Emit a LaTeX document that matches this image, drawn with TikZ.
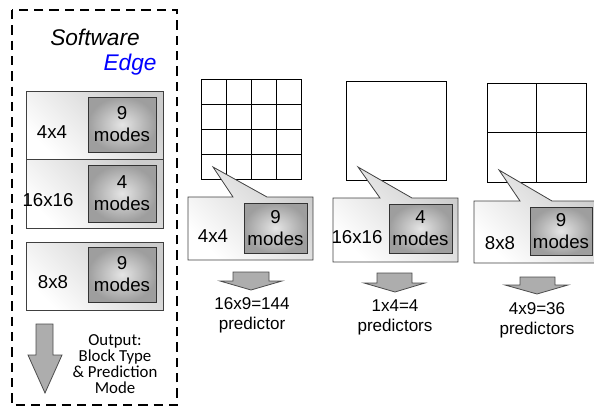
\documentclass[tikz,border=0pt]{standalone}
\usepackage{fontspec}
\setmainfont{Liberation Sans}
\newfontfamily\calib{Carlito}
\begin{document}
\begin{tikzpicture}[x=0.75pt,y=-0.75pt,
  outerbox/.style={draw=black!75, line width=0.6pt, top color=black!20, bottom color=white, shading angle=-45},
  innerbox/.style={draw=black!80, line width=0.6pt, inner color=black!10, outer color=black!38},
  gridline/.style={draw=black, line width=0.6pt},
  blockarrow/.style={draw=black!70, fill=black!32, line width=0.6pt},
  lbl/.style={font=\fontsize{14}{16.5}\selectfont, align=center, inner sep=0pt},
  res/.style={font=\fontsize{12.8}{15}\selectfont, align=center, inner sep=0pt}
]
\useasboundingbox (0,0) rectangle (594,407);
\clip (0,0) rectangle (594,407);

% dashed software box
\draw[line width=1.4pt, dash pattern=on 7pt off 4.5pt] (12,10) rectangle (177,405);
\node[font=\fontsize{17}{20}\selectfont\itshape, inner sep=0pt] (sw) at (95,37) {Software};
\node[font=\fontsize{17}{20}\selectfont\itshape, text=blue, inner sep=0pt] (edge) at (130,65) {Edge};

% left stack
\path[outerbox] (26,91) rectangle (163,159);
\path[innerbox] (88,97) rectangle (156,152);
\node[lbl] (l1) at (52,132) {4x4};
\node[lbl] (l1m) at (122,124.5) {9\\modes};

\path[outerbox] (26,159) rectangle (163,228);
\path[innerbox] (88,165) rectangle (156,222);
\node[lbl] (l2) at (48,200) {16x16};
\node[lbl] (l2m) at (122,193.5) {4\\modes};

\path[outerbox] (26,242) rectangle (163,310);
\path[innerbox] (88,247) rectangle (156,302);
\node[lbl] (l3) at (53,282) {8x8};
\node[lbl] (l3m) at (122,274.5) {9\\modes};

% output arrow and text
\path[blockarrow] (36,324) -- (53,324) -- (53,355) -- (62,355) -- (45,393) -- (28,355) -- (36,355) -- cycle;
\node[font=\calib\fontsize{12.6}{12}\selectfont, align=center, inner sep=0pt] (out) at (115,364) {Output:\\Block Type\\\& Prediction\\Mode};

% grid 1 (4x4)
\draw[gridline] (201,79) rectangle (301,179);
\foreach \i in {1,2,3} {
  \draw[gridline] (201+25*\i,79) -- (201+25*\i,179);
  \draw[gridline] (201,79+25*\i) -- (301,79+25*\i);
}
% grid 2 (1)
\draw[gridline] (346,81) rectangle (446,180);
% grid 3 (2x2)
\draw[gridline] (487,83) rectangle (586,182);
\draw[gridline] (536.5,83) -- (536.5,182);
\draw[gridline] (487,132.5) -- (586,132.5);

% callout 1
\path[outerbox] (188,197) -- (233,197) -- (213,167) -- (267,197) -- (313,197) -- (313,260) -- (188,260) -- cycle;
\path[innerbox] (244,203) rectangle (307,253);
\node[lbl] (c1) at (213,236) {4x4};
\node[lbl] (c1m) at (275.5,228) {9\\modes};

% callout 2
\path[outerbox] (333,198) -- (380,198) -- (358,167) -- (412,198) -- (458,198) -- (458,262) -- (333,262) -- cycle;
\path[innerbox] (389,204) rectangle (452,253);
\node[lbl] (c2) at (357,237) {16x16};
\node[lbl] (c2m) at (420.5,228.5) {4\\modes};

% callout 3
\path[outerbox] (474,201) -- (520,201) -- (499,170) -- (552,201) -- (600,201) -- (600,263) -- (474,263) -- cycle;
\path[innerbox] (530,207) rectangle (592,255);
\node[lbl] (c3) at (500,243) {8x8};
\node[lbl] (c3m) at (561,231) {9\\modes};

% result arrows
\path[blockarrow] (233,272) -- (269,272) -- (269,281) -- (282,281) -- (251,290) -- (220,281) -- (233,281) -- cycle;
\path[blockarrow] (377,273) -- (412,273) -- (412,283) -- (425,283) -- (395,292) -- (364,283) -- (377,283) -- cycle;
\path[blockarrow] (520,277) -- (555,277) -- (555,285) -- (568,285) -- (537,294) -- (505,285) -- (520,285) -- cycle;

\node[res] (r1) at (252,315) {16x9=144\\predictor};
\node[res] (r2) at (395,317) {1x4=4\\predictors};
\node[res] (r3) at (537,320) {4x9=36\\predictors};
\end{tikzpicture}
\end{document}
